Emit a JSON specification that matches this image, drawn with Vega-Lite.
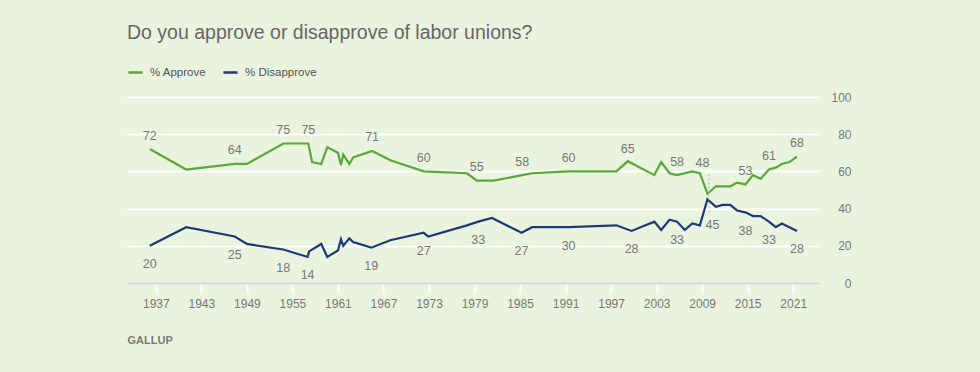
{
  "$schema": "https://vega.github.io/schema/vega-lite/v6.json",
  "autosize": "none",
  "width": 692,
  "height": 186,
  "padding": {"left": 127, "top": 97, "right": 161, "bottom": 89},
  "background": "#eaf3de",
  "config": {
    "font": "Liberation Sans",
    "view": {"stroke": null}
  },
  "title": {
    "text": "Do you approve or disapprove of labor unions?",
    "anchor": "start",
    "frame": "group",
    "fontSize": 19.5,
    "fontWeight": "normal",
    "color": "#666666",
    "offset": 21
  },
  "datasets": {
    "series": [
      {"year": 1936.2, "value": 72, "series": "% Approve"},
      {"year": 1941.0, "value": 61, "series": "% Approve"},
      {"year": 1947.4, "value": 64, "series": "% Approve"},
      {"year": 1949.0, "value": 64, "series": "% Approve"},
      {"year": 1953.8, "value": 75, "series": "% Approve"},
      {"year": 1957.1, "value": 75, "series": "% Approve"},
      {"year": 1957.6, "value": 65, "series": "% Approve"},
      {"year": 1958.8, "value": 64, "series": "% Approve"},
      {"year": 1959.6, "value": 73, "series": "% Approve"},
      {"year": 1961.0, "value": 70, "series": "% Approve"},
      {"year": 1961.4, "value": 63.5, "series": "% Approve"},
      {"year": 1961.7, "value": 69, "series": "% Approve"},
      {"year": 1962.5, "value": 64, "series": "% Approve"},
      {"year": 1963.0, "value": 67.5, "series": "% Approve"},
      {"year": 1965.5, "value": 71, "series": "% Approve"},
      {"year": 1967.9, "value": 66, "series": "% Approve"},
      {"year": 1972.3, "value": 60, "series": "% Approve"},
      {"year": 1978.0, "value": 59, "series": "% Approve"},
      {"year": 1979.3, "value": 55, "series": "% Approve"},
      {"year": 1981.5, "value": 55, "series": "% Approve"},
      {"year": 1985.3, "value": 58, "series": "% Approve"},
      {"year": 1986.6, "value": 59, "series": "% Approve"},
      {"year": 1991.4, "value": 60, "series": "% Approve"},
      {"year": 1997.7, "value": 60, "series": "% Approve"},
      {"year": 1999.2, "value": 65.5, "series": "% Approve"},
      {"year": 2002.7, "value": 58, "series": "% Approve"},
      {"year": 2003.6, "value": 65, "series": "% Approve"},
      {"year": 2004.7, "value": 59, "series": "% Approve"},
      {"year": 2005.7, "value": 58, "series": "% Approve"},
      {"year": 2007.7, "value": 60, "series": "% Approve"},
      {"year": 2008.7, "value": 59, "series": "% Approve"},
      {"year": 2009.7, "value": 48, "series": "% Approve"},
      {"year": 2010.8, "value": 52, "series": "% Approve"},
      {"year": 2012.7, "value": 52, "series": "% Approve"},
      {"year": 2013.6, "value": 54, "series": "% Approve"},
      {"year": 2014.7, "value": 53, "series": "% Approve"},
      {"year": 2015.7, "value": 58, "series": "% Approve"},
      {"year": 2016.7, "value": 56, "series": "% Approve"},
      {"year": 2017.8, "value": 61, "series": "% Approve"},
      {"year": 2018.7, "value": 62, "series": "% Approve"},
      {"year": 2019.5, "value": 64, "series": "% Approve"},
      {"year": 2020.5, "value": 65, "series": "% Approve"},
      {"year": 2021.5, "value": 68, "series": "% Approve"},
      {"year": 1936.2, "value": 20, "series": "% Disapprove"},
      {"year": 1941.0, "value": 30, "series": "% Disapprove"},
      {"year": 1947.4, "value": 25, "series": "% Disapprove"},
      {"year": 1949.0, "value": 21, "series": "% Disapprove"},
      {"year": 1953.8, "value": 18, "series": "% Disapprove"},
      {"year": 1957.0, "value": 14, "series": "% Disapprove"},
      {"year": 1957.2, "value": 17, "series": "% Disapprove"},
      {"year": 1958.8, "value": 21, "series": "% Disapprove"},
      {"year": 1959.6, "value": 14, "series": "% Disapprove"},
      {"year": 1961.0, "value": 17.5, "series": "% Disapprove"},
      {"year": 1961.4, "value": 23.5, "series": "% Disapprove"},
      {"year": 1961.7, "value": 20, "series": "% Disapprove"},
      {"year": 1962.5, "value": 24, "series": "% Disapprove"},
      {"year": 1963.0, "value": 22, "series": "% Disapprove"},
      {"year": 1965.4, "value": 19, "series": "% Disapprove"},
      {"year": 1967.9, "value": 23, "series": "% Disapprove"},
      {"year": 1972.3, "value": 27, "series": "% Disapprove"},
      {"year": 1972.9, "value": 25, "series": "% Disapprove"},
      {"year": 1978.0, "value": 31, "series": "% Disapprove"},
      {"year": 1979.5, "value": 33, "series": "% Disapprove"},
      {"year": 1981.3, "value": 35, "series": "% Disapprove"},
      {"year": 1985.2, "value": 27, "series": "% Disapprove"},
      {"year": 1986.6, "value": 30, "series": "% Disapprove"},
      {"year": 1991.4, "value": 30, "series": "% Disapprove"},
      {"year": 1997.7, "value": 31, "series": "% Disapprove"},
      {"year": 1999.7, "value": 28, "series": "% Disapprove"},
      {"year": 2002.7, "value": 33, "series": "% Disapprove"},
      {"year": 2003.6, "value": 28.5, "series": "% Disapprove"},
      {"year": 2004.7, "value": 34, "series": "% Disapprove"},
      {"year": 2005.7, "value": 33, "series": "% Disapprove"},
      {"year": 2006.7, "value": 28.5, "series": "% Disapprove"},
      {"year": 2007.7, "value": 32, "series": "% Disapprove"},
      {"year": 2008.7, "value": 31, "series": "% Disapprove"},
      {"year": 2009.7, "value": 45, "series": "% Disapprove"},
      {"year": 2010.8, "value": 41, "series": "% Disapprove"},
      {"year": 2011.7, "value": 42, "series": "% Disapprove"},
      {"year": 2012.7, "value": 42, "series": "% Disapprove"},
      {"year": 2013.6, "value": 39, "series": "% Disapprove"},
      {"year": 2014.7, "value": 38, "series": "% Disapprove"},
      {"year": 2015.7, "value": 36, "series": "% Disapprove"},
      {"year": 2016.7, "value": 36, "series": "% Disapprove"},
      {"year": 2017.8, "value": 33, "series": "% Disapprove"},
      {"year": 2018.7, "value": 30, "series": "% Disapprove"},
      {"year": 2019.5, "value": 32, "series": "% Disapprove"},
      {"year": 2020.5, "value": 30, "series": "% Disapprove"},
      {"year": 2021.5, "value": 28, "series": "% Disapprove"}
    ],
    "labels": [
      {"year": 1936.2, "value": 72, "series": "% Approve", "callout": false},
      {"year": 1947.4, "value": 64, "series": "% Approve", "callout": false},
      {"year": 1953.8, "value": 75, "series": "% Approve", "callout": false},
      {"year": 1957.1, "value": 75, "series": "% Approve", "callout": false},
      {"year": 1965.5, "value": 71, "series": "% Approve", "callout": false},
      {"year": 1972.3, "value": 60, "series": "% Approve", "callout": false},
      {"year": 1979.3, "value": 55, "series": "% Approve", "callout": false},
      {"year": 1985.3, "value": 58, "series": "% Approve", "callout": false},
      {"year": 1991.4, "value": 60, "series": "% Approve", "callout": false},
      {"year": 1999.2, "value": 65, "series": "% Approve", "callout": false},
      {"year": 2005.7, "value": 58, "series": "% Approve", "callout": false},
      {"year": 2009.7, "value": 48, "series": "% Approve", "callout": true},
      {"year": 2014.7, "value": 53, "series": "% Approve", "callout": false},
      {"year": 2017.8, "value": 61, "series": "% Approve", "callout": false},
      {"year": 2021.5, "value": 68, "series": "% Approve", "callout": false},
      {"year": 1936.2, "value": 20, "series": "% Disapprove", "callout": false},
      {"year": 1947.4, "value": 25, "series": "% Disapprove", "callout": false},
      {"year": 1953.8, "value": 18, "series": "% Disapprove", "callout": false},
      {"year": 1957.0, "value": 14, "series": "% Disapprove", "callout": false},
      {"year": 1965.4, "value": 19, "series": "% Disapprove", "callout": false},
      {"year": 1972.3, "value": 27, "series": "% Disapprove", "callout": false},
      {"year": 1979.5, "value": 33, "series": "% Disapprove", "callout": false},
      {"year": 1985.2, "value": 27, "series": "% Disapprove", "callout": false},
      {"year": 1991.4, "value": 30, "series": "% Disapprove", "callout": false},
      {"year": 1999.7, "value": 28, "series": "% Disapprove", "callout": false},
      {"year": 2005.7, "value": 33, "series": "% Disapprove", "callout": false},
      {"year": 2009.7, "value": 45, "series": "% Disapprove", "callout": true},
      {"year": 2014.7, "value": 38, "series": "% Disapprove", "callout": false},
      {"year": 2017.8, "value": 33, "series": "% Disapprove", "callout": false},
      {"year": 2021.5, "value": 28, "series": "% Disapprove", "callout": false}
    ],
    "leader": [
      {"year": 2009.9, "value": 38, "value2": 59.5}
    ]
  },
  "encoding": {
    "x": {
      "field": "year",
      "type": "quantitative",
      "scale": {"domain": [1933.2, 2024.4], "nice": false, "zero": false},
      "axis": {
        "values": [1937, 1943, 1949, 1955, 1961, 1967, 1973, 1979, 1985, 1991, 1997, 2003, 2009, 2015, 2021],
        "format": "d",
        "grid": false,
        "domain": true,
        "domainColor": "#d2d6cc",
        "domainWidth": 2,
        "ticks": true,
        "tickColor": "#ffffff",
        "tickWidth": 2,
        "tickSize": 10,
        "labelColor": "#777777",
        "labelFontSize": 12,
        "labelPadding": 5,
        "zindex": 1,
        "title": "GALLUP",
        "titleAnchor": "start",
        "titleAlign": "left",
        "titleFontSize": 11,
        "titleFontWeight": "bold",
        "titleColor": "#7a7a7a",
        "titlePadding": 25
      }
    },
    "y": {
      "field": "value",
      "type": "quantitative",
      "scale": {"domain": [0, 100], "nice": false},
      "axis": {
        "orient": "right",
        "values": [0, 20, 40, 60, 80, 100],
        "grid": true,
        "gridColor": "#ffffff",
        "gridWidth": 2,
        "domain": false,
        "ticks": false,
        "labelAlign": "right",
        "labelPadding": 32,
        "labelColor": "#777777",
        "labelFontSize": 12,
        "title": null
      }
    }
  },
  "layer": [
    {
      "data": {"name": "series"},
      "mark": {"type": "line", "strokeWidth": 2.2, "strokeJoin": "miter"},
      "encoding": {
        "color": {
          "field": "series",
          "type": "nominal",
          "scale": {"domain": ["% Approve", "% Disapprove"], "range": ["#5aa73a", "#1d3a78"]},
          "legend": {
            "title": null,
            "orient": "none",
            "legendX": 0,
            "legendY": -33,
            "direction": "horizontal",
            "symbolType": "stroke",
            "symbolStrokeWidth": 2.5,
            "symbolSize": 200,
            "labelFontSize": 11.5,
            "labelColor": "#555555",
            "columnPadding": 11,
            "labelOffset": 6
          }
        }
      }
    },
    {
      "data": {"name": "leader"},
      "mark": {"type": "rule", "strokeDash": [2, 2], "color": "#b9bdb4", "strokeWidth": 1},
      "encoding": {"y2": {"field": "value2"}}
    },
    {
      "data": {"name": "labels"},
      "transform": [{"filter": "datum.series == '% Approve' && !datum.callout"}],
      "mark": {"type": "text", "dy": -13.5, "fontSize": 12.5, "color": "#777777", "baseline": "middle"},
      "encoding": {"text": {"field": "value", "type": "quantitative"}}
    },
    {
      "data": {"name": "labels"},
      "transform": [{"filter": "datum.series == '% Disapprove' && !datum.callout"}],
      "mark": {"type": "text", "dy": 18.5, "fontSize": 12.5, "color": "#777777", "baseline": "middle"},
      "encoding": {"text": {"field": "value", "type": "quantitative"}}
    },
    {
      "data": {"name": "labels"},
      "transform": [{"filter": "datum.series == '% Approve' && datum.callout"}],
      "mark": {"type": "text", "dy": -31, "dx": -5, "fontSize": 12.5, "color": "#777777", "baseline": "middle"},
      "encoding": {"text": {"field": "value", "type": "quantitative"}}
    },
    {
      "data": {"name": "labels"},
      "transform": [{"filter": "datum.series == '% Disapprove' && datum.callout"}],
      "mark": {"type": "text", "dy": 26, "dx": 5, "fontSize": 12.5, "color": "#777777", "baseline": "middle"},
      "encoding": {"text": {"field": "value", "type": "quantitative"}}
    }
  ]
}
